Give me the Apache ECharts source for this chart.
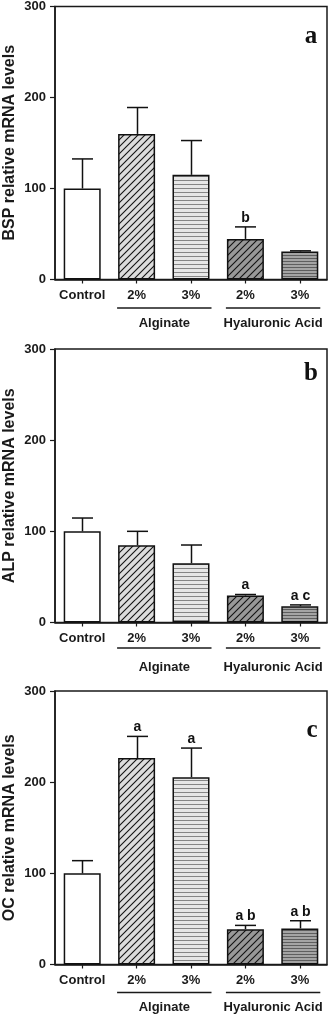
<!DOCTYPE html>
<html>
<head>
<meta charset="utf-8">
<script src="https://cdn.jsdelivr.net/npm/echarts@6/dist/echarts.min.js"></script>
<style>
html,body{margin:0;padding:0;background:#fff;}
#main{width:331px;height:1017px;}
</style>
</head>
<body>
<div id="main"></div>
<script>
// ---- data ----
var categories = ['Control', '2%', '3%', '2%', '3%'];
var groupNames = ['Alginate', 'Hyaluronic Acid'];
var yTicks = [0, 100, 200, 300];

var bspMean = [100, 160, 115, 44.6, 30.8];
var bspSem  = [32.5, 29, 37.7, 13.2, 0.7];
var bspSig  = ['', '', '', 'b', ''];

var alpMean = [100, 84.7, 65, 29.6, 17.9];
var alpSem  = [14.6, 15.3, 20, 1.1, 1.4];
var alpSig  = ['', '', '', 'a', 'a c'];

var ocMean = [100, 226.4, 205.5, 38.8, 39.6];
var ocSem  = [13.9, 23.8, 31.9, 4.1, 8.4];
var ocSig  = ['', 'a', 'a', 'a b', 'a b'];

var panelTitles = ['BSP relative mRNA levels', 'ALP relative mRNA levels', 'OC relative mRNA levels'];
var panelLetters = ['a', 'b', 'c'];

// ---- patterns ----
function diagPattern(bg, line) {
  var c = document.createElement('canvas');
  c.width = 7; c.height = 7;
  var g = c.getContext('2d');
  g.fillStyle = bg; g.fillRect(0, 0, 7, 7);
  g.strokeStyle = line; g.lineWidth = 1.1;
  for (var k = -7; k <= 7; k += 7) {
    g.beginPath(); g.moveTo(k - 1, 8); g.lineTo(k + 8, -1); g.stroke();
  }
  return {image: c, repeat: 'repeat'};
}
function horizPattern(bg, line, period) {
  var c = document.createElement('canvas');
  c.width = 4; c.height = period;
  var g = c.getContext('2d');
  g.fillStyle = bg; g.fillRect(0, 0, 4, period);
  g.fillStyle = line; g.fillRect(0, 0, 4, 1);
  return {image: c, repeat: 'repeat'};
}
var fills = [
  '#ffffff',
  diagPattern('#dcdcdc', '#111111'),
  horizPattern('#e6e6e6', '#858585', 4),
  diagPattern('#989898', '#111111'),
  horizPattern('#a4a4a4', '#5e5e5e', 3)
];

var panels = [
  {mean: bspMean, sem: bspSem, sig: bspSig, top: 6},
  {mean: alpMean, sem: alpSem, sig: alpSig, top: 349},
  {mean: ocMean, sem: ocSem, sig: ocSig, top: 691}
];
var gridH = 273.5;
var FONT = 'Arial, "Liberation Sans", sans-serif';

var chart = echarts.init(document.getElementById('main'), null, {renderer: 'canvas'});

var grids = [], xAxes = [], yAxes = [], series = [];
panels.forEach(function (p, i) {
  grids.push({left: 55, right: 4, top: p.top, height: gridH, show: true,
    borderColor: '#1a1a1a', borderWidth: 1.5, backgroundColor: 'transparent'});
  xAxes.push({type: 'category', gridIndex: i, data: categories,
    axisLine: {lineStyle: {color: '#1a1a1a', width: 1.5}},
    axisTick: {show: true, alignWithLabel: true, length: 4, lineStyle: {color: '#1a1a1a', width: 1.2}},
    axisLabel: {color: '#1a1a1a', fontWeight: 'bold', fontSize: 13, fontFamily: FONT, margin: 9, interval: 0},
    splitLine: {show: false}});
  yAxes.push({type: 'value', gridIndex: i, min: 0, max: 300, interval: 100,
    axisLine: {show: true, lineStyle: {color: '#1a1a1a', width: 1.5}},
    axisTick: {show: true, length: 5, lineStyle: {color: '#1a1a1a', width: 1.2}},
    axisLabel: {color: '#1a1a1a', fontWeight: 'bold', fontSize: 13, fontFamily: FONT, margin: 9,
      formatter: function (v) { return yTicks.indexOf(v) >= 0 ? String(v) : ''; }},
    splitLine: {show: false}});
  series.push({type: 'bar', xAxisIndex: i, yAxisIndex: i, barWidth: 37, z: 2,
    data: p.mean.map(function (v, k) {
      return {value: v, itemStyle: {color: fills[k], borderColor: '#111', borderWidth: 1.5}};
    }),
    animation: false});
  series.push({type: 'custom', xAxisIndex: i, yAxisIndex: i, z: 3, animation: false,
    data: p.mean.map(function (v, k) { return [k, v, p.sem[k]]; }),
    renderItem: function (params, api) {
      var b = api.coord([api.value(0), api.value(1)]);
      var t = api.coord([api.value(0), api.value(1) + api.value(2)]);
      var x = Math.round(b[0]) + 0.5;
      var children = [
        {type: 'line', shape: {x1: x, y1: b[1], x2: x, y2: t[1]}, style: {stroke: '#111', lineWidth: 1.5}},
        {type: 'line', shape: {x1: x - 10.5, y1: t[1], x2: x + 10.5, y2: t[1]}, style: {stroke: '#111', lineWidth: 1.5}}
      ];
      var s = p.sig[params.dataIndex];
      if (s) {
        children.push({type: 'text', x: x, y: t[1] - 2,
          style: {text: s, fill: '#111', font: 'bold 14px ' + FONT, align: 'center', verticalAlign: 'bottom'}});
      }
      return {type: 'group', children: children};
    }});
});

chart.setOption({
  animation: false,
  grid: grids, xAxis: xAxes, yAxis: yAxes, series: series
});

// ---- annotations computed from the axes ----
var lineOff = [28.5, 25.5, 28];
var labOff = [44, 45, 43];
var letterPos = [[311, 37], [311, 374], [312, 731]];
var graphics = [];
panels.forEach(function (p, i) {
  var axisY = p.top + gridH;
  var cx = [];
  for (var k = 0; k < categories.length; k++) {
    cx.push(chart.convertToPixel({xAxisIndex: i}, k));
  }
  var groups = [[1, 2], [3, 4]];
  groups.forEach(function (gr, gi) {
    var x1 = cx[gr[0]] - 19.5, x2 = cx[gr[1]] + 20.5;
    graphics.push({type: 'line', shape: {x1: x1, y1: axisY + lineOff[i], x2: x2, y2: axisY + lineOff[i]},
      style: {stroke: '#1a1a1a', lineWidth: 1.5}});
    graphics.push({type: 'text', x: (x1 + x2) / 2, y: axisY + labOff[i],
      style: {text: groupNames[gi], fill: '#1a1a1a', font: 'bold 13px ' + FONT, align: 'center', verticalAlign: 'middle'}});
  });
  graphics.push({type: 'text', x: 10, y: p.top + gridH / 2, rotation: Math.PI / 2,
    style: {text: panelTitles[i], fill: '#1a1a1a', font: 'bold 16px ' + FONT, align: 'center', verticalAlign: 'middle'}});
  graphics.push({type: 'text', x: letterPos[i][0], y: letterPos[i][1],
    style: {text: panelLetters[i], fill: '#111', font: 'bold 25px "Liberation Serif", "Times New Roman", serif', align: 'center', verticalAlign: 'middle'}});
});
chart.setOption({graphic: graphics});
</script>
</body>
</html>
